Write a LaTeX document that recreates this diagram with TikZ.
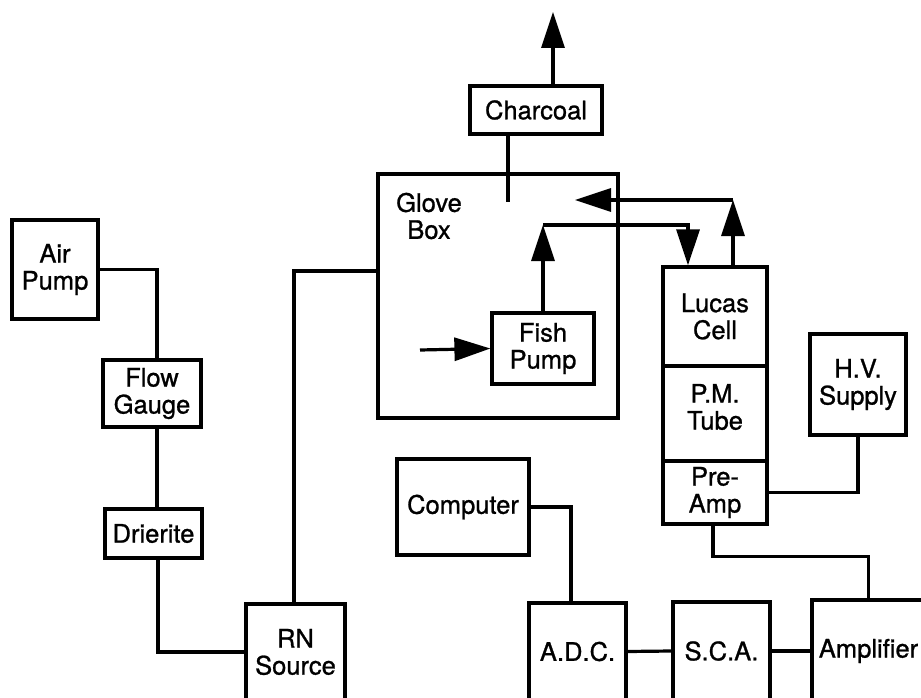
\documentclass[tikz,border=0pt]{standalone}
\usepackage{fontspec}
\setmainfont{TeX Gyre Heros}[FakeBold=1.0]
\usetikzlibrary{arrows.meta}
\tikzset{
  box/.style={draw, line width=3.2pt, inner sep=0pt, align=center,
    font=\fontsize{25.5}{27}\selectfont},
  txt/.style={inner sep=0pt, align=center, font=\fontsize{25.5}{27}\selectfont},
  ln/.style={line width=3.2pt},
  arr/.style={line width=3.2pt, -{Triangle[length=36pt,width=23pt]}},
}
\begin{document}
\begin{tikzpicture}[x=1pt,y=-1pt]
\useasboundingbox (0,0) rectangle (921,698);
\clip (0,0) rectangle (921,698);
% boxes
\node[box, minimum width=132, minimum height=48] (charcoal) at (536,110) {Charcoal};
\node[box, minimum width=240, minimum height=244] (glove) at (498,296) {};
\node[txt] (gbtext) at (429,216) {Glove\\Box};
\node[box, minimum width=102, minimum height=71] (fish) at (543,348.5) {Fish\\Pump};
\node[box, minimum width=104, minimum height=99] (lucas) at (715,316.5) {Lucas\\Cell};
\node[box, minimum width=104, minimum height=95] (pm) at (715,413.5) {};
\node[txt] (pmtext) at (715,407) {P.M.\\Tube};
\node[box, minimum width=104, minimum height=63] (preamp) at (715,492.5) {Pre-\\Amp};
\node[box, minimum width=96, minimum height=101] (hv) at (858,384.5) {H.V.\\Supply};
\node[box, minimum width=86, minimum height=99] (airpump) at (55,269.5) {Air\\Pump};
\node[box, minimum width=98, minimum height=67] (flow) at (152,393.5) {Flow\\Gauge};
\node[box, minimum width=97, minimum height=49] (drierite) at (153.5,533.5) {Drierite};
\node[box, minimum width=99, minimum height=96] (rn) at (295.5,652) {RN\\Source};
\node[box, minimum width=132, minimum height=96] (comp) at (463,507) {Computer};
\node[box, minimum width=97, minimum height=97] (adc) at (577.5,651.5) {A.D.C.};
\node[box, minimum width=97, minimum height=98] (sca) at (721.5,651) {S.C.A.};
\node[box, minimum width=113, minimum height=102] (amp) at (868.5,651) {Amplifier};
% free ends
\coordinate (cstem) at (508,202);
\coordinate (exhaust) at (553,12);
\coordinate (fin) at (420,350);
\coordinate (fc1) at (543,225);
\coordinate (oc) at (733,200);
\coordinate (gbin) at (575,200);
% connectors
\draw[ln] ([xshift=-28]charcoal.south) -- (cstem);
\draw[arr] ([xshift=17]charcoal.north) -- (exhaust);
\draw[ln] (airpump.east) -| ([xshift=5]flow.north);
\draw[ln] ([xshift=5]flow.south) -- ([xshift=3.5]drierite.north);
\draw[ln] ([xshift=4.5]drierite.south) |- (rn.west);
\draw[ln] ([xshift=-1.5]rn.north) |- ([yshift=25]glove.west);
\draw[arr] (fin) -- (fish.west);
\draw[arr] (fish.north) -- (fc1);
\draw[arr] (fc1) -| ([xshift=-27]lucas.north);
\draw[arr] ([xshift=18]lucas.north) -- (oc);
\draw[arr] (oc) -- (gbin);
\draw[ln] (hv.south) |- (preamp.east);
\draw[ln] ([xshift=-2]preamp.south) -- ++(0,31) -| (amp.north);
\draw[ln] (comp.east) -| ([xshift=-6.5]adc.north);
\draw[ln] (adc.east) -- (sca.west);
\draw[ln] (sca.east) -- (amp.west);
\end{tikzpicture}
\end{document}
